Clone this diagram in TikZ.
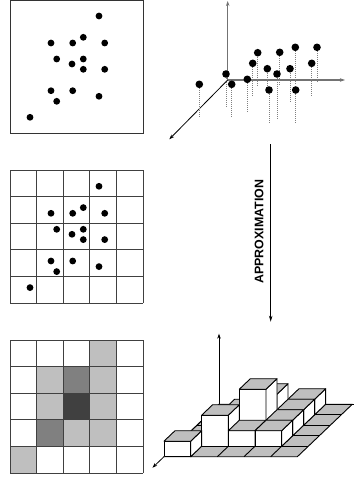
\documentclass[tikz,border=0pt]{standalone}
\usepackage{fontspec}
\setmainfont{Liberation Sans}
\usetikzlibrary{arrows.meta}
\begin{document}
\begin{tikzpicture}[x=1pt,y=-1pt,
  frame/.style={draw=black!80,line width=1pt},
  gline/.style={draw=black!75,line width=1pt},
  dot/.style={fill=black,circle,inner sep=0pt,minimum size=6.8pt},
  bigdot/.style={fill=black,circle,inner sep=0pt,minimum size=7.6pt},
  drop/.style={draw=gray,line width=0.9pt,dash pattern=on 1pt off 1pt},
  grayaxis/.style={draw=black!55,line width=1.2pt,-{Stealth[length=5pt,width=3.5pt]}},
  darkaxis/.style={draw=black,line width=0.8pt,-{Stealth[length=5pt,width=3.5pt]}},
  boxline/.style={draw=black,line width=0.9pt,line join=round},
  light/.style={fill=gray!50},
  medium/.style={fill=gray},
  darkc/.style={fill=black!75}]
\useasboundingbox (0,0) rectangle (354,477);

% ---------- top-left scatter ----------
\draw[frame] (10,0.6) rectangle (143.3,133);
\foreach \x/\y [count=\i] in {99/16,51/43,72.7/43,83.3/37.3,104.7/43,56.7/59,72/64,83.3/59,83.3/69.3,104.7/69.3,51/90.7,72.7/90.7,56.7/101.3,99/96.3,30/117.3}
  \node[dot] (a\i) at (\x,\y) {};

% ---------- middle grid with points ----------
\foreach \i in {0,...,5} {
  \draw[gline] (10+26.66*\i,170) -- (10+26.66*\i,303.3);
  \draw[gline] (10,170+26.66*\i) -- (143.3,170+26.66*\i);
}
\foreach \x/\y [count=\i] in {99/16,51/43,72.7/43,83.3/37.3,104.7/43,56.7/59,72/64,83.3/59,83.3/69.3,104.7/69.3,51/90.7,72.7/90.7,56.7/101.3,99/96.3,30/117.3}
  \node[dot] (b\i) at (\x,\y+170.3) {};

% ---------- bottom shaded grid ----------
\foreach \r/\c/\s in {0/3/light,1/1/light,1/2/medium,1/3/light,2/1/light,2/2/darkc,2/3/light,3/1/medium,3/2/light,3/3/light,4/0/light}
  \fill[\s] (10+26.66*\c,340+26.66*\r) rectangle (10+26.66*\c+26.66,340+26.66*\r+26.66);
\foreach \i in {0,...,5} {
  \draw[gline] (10+26.66*\i,340) -- (10+26.66*\i,473.3);
  \draw[gline] (10,340+26.66*\i) -- (143.3,340+26.66*\i);
}

% ---------- 3D scatter ----------
\coordinate (O) at (227.7,80);
\coordinate (Oz) at (227.7,1);
\coordinate (Ox) at (345,80);
\coordinate (Oy) at (169.3,139.3);
\draw[grayaxis] (O) -- (Oz);
\draw[grayaxis] (O) -- (Ox);
\draw[darkaxis] (O) -- (Oy);
\foreach \x/\y/\e [count=\i] in {199.3/84.3/116.7,226/74/106.7,231.7/84.3/118.3,247.3/79.3/111.7,252.7/63.3/96.7,257.7/52.7/86.7,267.3/68.7/88,269/90/123.3,277/74/118.3,279.7/52.3/85,290/68.7/101.7,295.3/47.3/84,295.7/90/123.3,311.7/63.3/96.7,317/47.3/82.7} {
  \coordinate (s\i) at (\x,\y);
  \coordinate (f\i) at (\x,\e);
  \draw[drop] (s\i) -- (f\i);
}
\foreach \i in {1,...,15}
  \node[bigdot] (c\i) at (s\i) {};

% ---------- approximation arrow ----------
\coordinate (ap1) at (270.7,144);
\coordinate (ap2) at (270.7,321.7);
\draw[line width=0.8pt,-{Stealth[length=6pt,width=3.5pt]}] (ap1) -- (ap2);
\node[rotate=90,inner sep=0pt,font=\bfseries\fontsize{12.4}{14}\selectfont] (lab) at (259,231.7) {APPROXIMATION};

% ---------- 3D histogram ----------
\begin{scope}[x={(26.67pt,0pt)},y={(11pt,10.5pt)},z={(0pt,15.5pt)},shift={(164pt,-456.7pt)}]
  \filldraw[boxline,light] (0,0,0) -- (5,0,0) -- (5,5,0) -- (0,5,0) -- cycle;
  \foreach \i in {1,...,4} {
    \draw[boxline] (\i,0,0) -- (\i,5,0);
    \draw[boxline] (0,\i,0) -- (5,\i,0);
  }
  \coordinate (H0) at (0,5,0);
  \coordinate (Hz) at (0,5,4.55);
  \coordinate (Hx) at (5.07,5,0);
  \coordinate (Hy) at (0,-1.05,0);
  \draw[darkaxis] (H0) -- (Hz);
  \draw[line width=0.8pt] (H0) -- (Hx);
  \draw[darkaxis] (H0) -- (Hy);
  \foreach \X/\D/\H in {3/4/1,1/3/1,2/3/2,3/3/1,1/2/1,2/2/3,3/2/1,1/1/2,2/1/1,3/1/1,0/0/1} {
    \filldraw[boxline,fill=white] (\X,\D,0) -- (\X+1,\D,0) -- (\X+1,\D,\H) -- (\X,\D,\H) -- cycle;
    \filldraw[boxline,fill=white] (\X+1,\D,0) -- (\X+1,\D+1,0) -- (\X+1,\D+1,\H) -- (\X+1,\D,\H) -- cycle;
    \filldraw[boxline,light] (\X,\D,\H) -- (\X+1,\D,\H) -- (\X+1,\D+1,\H) -- (\X,\D+1,\H) -- cycle;
  }
\end{scope}
\end{tikzpicture}
\end{document}
